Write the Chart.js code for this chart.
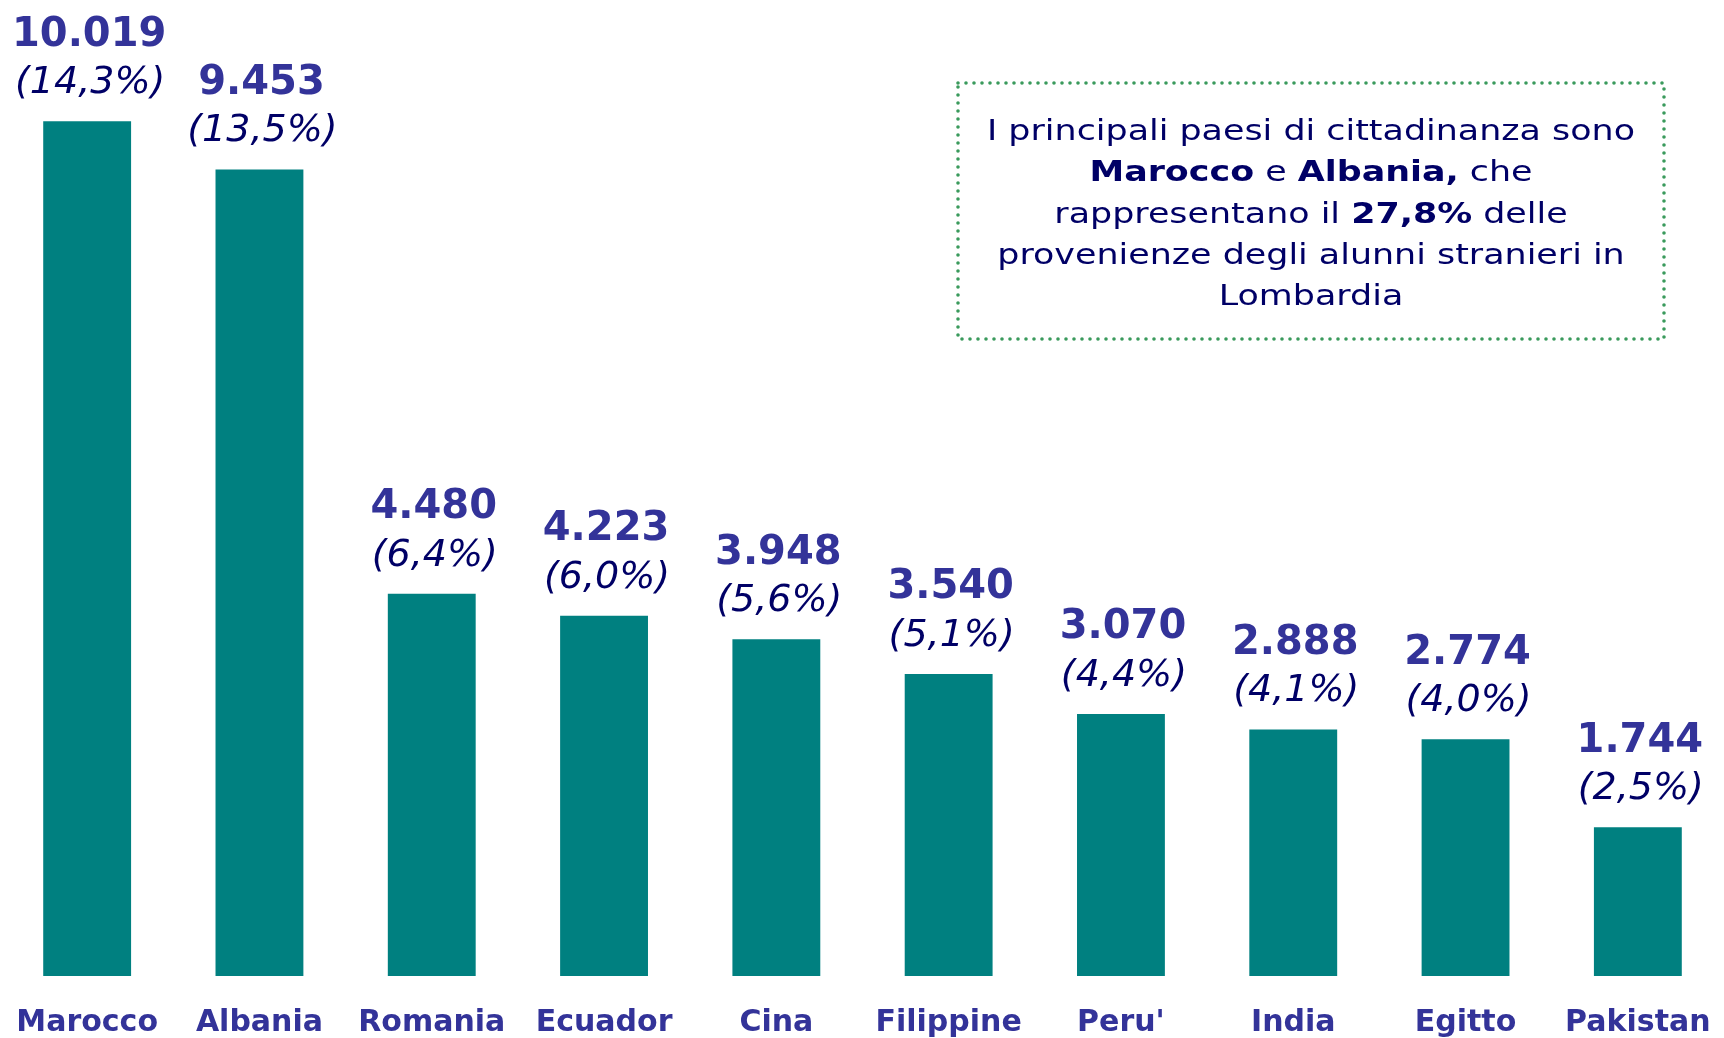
<!DOCTYPE html>
<html><head><meta charset="utf-8">
<script src="https://cdn.jsdelivr.net/npm/chart.js@4"></script>
<style>html,body{margin:0;padding:0;background:#fff;overflow:hidden;}canvas{display:block;}</style>
</head><body>
<canvas id="c" width="1724" height="1038"></canvas>
<script>
const categories = ['Marocco', 'Albania', 'Romania', 'Ecuador', 'Cina', 'Filippine', "Peru'", 'India', 'Egitto', 'Pakistan'];
const alunni = [10019, 9453, 4480, 4223, 3948, 3540, 3070, 2888, 2774, 1744];
const percentuali = [14.3, 13.5, 6.4, 6.0, 5.6, 5.1, 4.4, 4.1, 4.0, 2.5];
const noteLines = [
  [['I principali paesi di cittadinanza sono', false]],
  [['Marocco', true], [' e ', false], ['Albania,', true], [' che', false]],
  [['rappresentano il ', false], ['27,8%', true], [' delle', false]],
  [['provenienze degli alunni stranieri in', false]],
  [['Lombardia', false]]
];

const FONT = '"DejaVu Sans", Verdana, sans-serif';
const fmtInt = v => v.toLocaleString('it-IT');
const fmtPct = v => '(' + v.toFixed(1).replace('.', ',') + '%)';

const labelPlugin = {
  id: 'barLabels',
  afterDatasetsDraw(chart) {
    const ctx = chart.ctx;
    const meta = chart.getDatasetMeta(0);
    meta.data.forEach((bar, i) => {
      ctx.save();
      ctx.textAlign = 'center';
      ctx.textBaseline = 'middle';
      ctx.fillStyle = '#333399';
      ctx.font = 'bold 40px ' + FONT;
      ctx.fillText(fmtInt(alunni[i]), bar.x + 2, bar.y - 86);
      ctx.fillStyle = '#000066';
      ctx.font = 'italic 38px ' + FONT;
      ctx.fillText(fmtPct(percentuali[i]), bar.x + 3, bar.y - 38);
      ctx.restore();
    });
  }
};

const notePlugin = {
  id: 'noteBox',
  afterDraw(chart) {
    const ctx = chart.ctx;
    ctx.save();
    ctx.strokeStyle = '#3a9a5c';
    ctx.lineWidth = 3.6;
    ctx.lineCap = 'round';
    ctx.setLineDash([0, 8]);
    ctx.strokeRect(958, 83, 706, 256);
    ctx.restore();

    const size = 29;
    const cx = 1311;
    ctx.save();
    ctx.font = size + 'px ' + FONT;
    const w0 = ctx.measureText(noteLines[0][0][0]).width;
    ctx.restore();
    const sx = 648 / w0;
    noteLines.forEach((segs, li) => {
      const y = 140 + li * 41.3;
      ctx.save();
      ctx.translate(cx, y);
      ctx.scale(sx, 1);
      ctx.textAlign = 'left';
      ctx.textBaseline = 'alphabetic';
      ctx.fillStyle = '#000066';
      let total = 0;
      const ws = segs.map(s => {
        ctx.font = (s[1] ? 'bold ' : '') + size + 'px ' + FONT;
        const w = ctx.measureText(s[0]).width;
        total += w;
        return w;
      });
      let x = -total / 2;
      segs.forEach((s, i) => {
        ctx.font = (s[1] ? 'bold ' : '') + size + 'px ' + FONT;
        ctx.fillText(s[0], x, 0);
        x += ws[i];
      });
      ctx.restore();
    });
  }
};

new Chart(document.getElementById('c'), {
  type: 'bar',
  data: {
    labels: categories,
    datasets: [{
      data: alunni,
      backgroundColor: '#008080',
      borderWidth: 0,
      categoryPercentage: 1,
      barPercentage: 0.51
    }]
  },
  options: {
    responsive: false,
    animation: false,
    devicePixelRatio: 1,
    layout: { padding: { left: 1, right: 0, top: 0, bottom: 0 } },
    plugins: { legend: { display: false }, tooltip: { enabled: false } },
    scales: {
      x: {
        grid: { display: false, drawTicks: true, tickLength: 29 },
        border: { display: false },
        ticks: {
          color: '#333399',
          font: { family: 'DejaVu Sans', size: 30, weight: 'bold' },
          padding: 0,
          maxRotation: 0,
          autoSkip: false
        },
        afterFit(scale) { scale.height = 62; scale.paddingLeft = 0; scale.paddingRight = 0; }
      },
      y: { display: false, min: 0, max: 11440 }
    }
  },
  plugins: [labelPlugin, notePlugin]
});
</script>
</body></html>
